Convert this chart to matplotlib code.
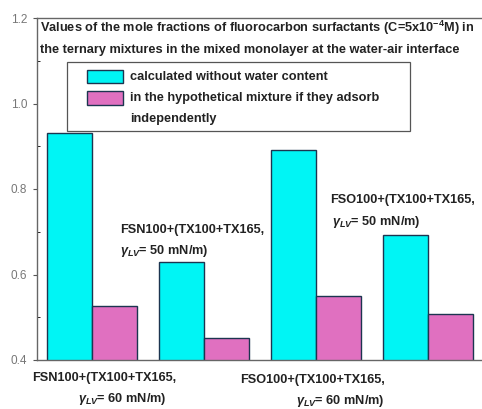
import matplotlib
matplotlib.use("Agg")
import matplotlib.pyplot as plt
from matplotlib.patches import Rectangle

# values
systems = ["FSN100 60", "FSN100 50", "FSO100 60", "FSO100 50"]
calc_no_water = [0.931, 0.629, 0.891, 0.692]
hypothetical = [0.526, 0.451, 0.550, 0.508]
yticks = [0.4, 0.6, 0.8, 1.0, 1.2]
series_labels = ["calculated without water content",
                 "in the hypothetical mixture if they adsorb\nindependently"]

CYAN = "#00f5f5"
PINK = "#e070c0"
EDGE = "#1c3550"
TXT = "#222222"
FS = 9.2

plt.rcParams["font.family"] = ["Liberation Sans", "DejaVu Sans"]
plt.rcParams["mathtext.fontset"] = "custom"
plt.rcParams["mathtext.rm"] = "Liberation Sans:bold"
plt.rcParams["mathtext.it"] = "Liberation Sans:italic:bold"
plt.rcParams["mathtext.bf"] = "Liberation Sans:bold"

W, H = 482, 409
L, R, T, B = 37, 481, 18, 360
fig = plt.figure(figsize=(W / 100, H / 100), dpi=100)
ax = fig.add_axes([L / W, (H - B) / H, (R - L) / W, (B - T) / H])

x = list(range(len(systems)))
bw = 0.40
ax.bar([i - bw / 2 for i in x], calc_no_water, bw, color=CYAN,
       edgecolor=EDGE, linewidth=1.0)
ax.bar([i + bw / 2 for i in x], hypothetical, bw, color=PINK,
       edgecolor=EDGE, linewidth=1.0)

ax.set_xlim(-0.49, 3.47)
ax.set_ylim(0.4, 1.2)
ax.set_yticks(yticks)
ax.set_yticks([0.5, 0.7, 0.9, 1.1], minor=True)
ax.set_yticklabels([f"{v:.1f}" for v in yticks])
ax.set_xticks([])
ax.tick_params(axis="y", labelsize=8.5, labelcolor="#777777", color="#555555",
               length=3, direction="out", pad=4)
ax.tick_params(axis="y", which="minor", length=2, direction="in")
ax.spines["right"].set_visible(False)
for s in ["left", "top", "bottom"]:
    ax.spines[s].set_color("#666666")
    ax.spines[s].set_linewidth(1.0)


def fx(px):
    return (px - L) / (R - L)


def fy(py):
    return (B - py) / (B - T)


tkw = dict(fontsize=FS, fontweight="bold", color=TXT, transform=ax.transAxes,
           va="center", ha="left", clip_on=False)

ax.text(fx(40), fy(28), "Values of the mole fractions of fluorocarbon surfactants (C=5x10$^{-4}$M) in", **tkw)
ax.text(fx(40), fy(50), "the ternary mixtures in the mixed monolayer at the water-air interface", **tkw)

# legend box, drawn by hand so the rows sit like the original
ax.add_patch(Rectangle((fx(67), fy(131)), fx(410) - fx(67), fy(62) - fy(131),
                       transform=ax.transAxes, facecolor="white", edgecolor="#555555",
                       linewidth=0.9, zorder=3))
for (colour, label, top, bot) in [(CYAN, series_labels[0], 70, 83),
                                  (PINK, series_labels[1], 91, 105)]:
    ax.add_patch(Rectangle((fx(87), fy(bot)), fx(123) - fx(87), fy(top) - fy(bot),
                           transform=ax.transAxes, facecolor=colour, edgecolor=EDGE,
                           linewidth=1.0, zorder=4))
ax.text(fx(130), fy(77), series_labels[0], zorder=5, **tkw)
for k, line in enumerate(series_labels[1].split("\n")):
    ax.text(fx(130), fy(98 + 21 * k), line, zorder=5, **tkw)

# in-plot labels
ax.text(fx(120), fy(230), "FSN100+(TX100+TX165,", **tkw)
ax.text(fx(120), fy(251), r"$\gamma_{LV}$= 50 mN/m)", **tkw)
ax.text(fx(330), fy(200), "FSO100+(TX100+TX165,", **tkw)
ax.text(fx(332), fy(222), r"$\gamma_{LV}$= 50 mN/m)", **tkw)

# below-axis labels
ax.text(fx(32), fy(378), "FSN100+(TX100+TX165,", **tkw)
ax.text(fx(78), fy(399), r"$\gamma_{LV}$= 60 mN/m)", **tkw)
ax.text(fx(240), fy(380), "FSO100+(TX100+TX165,", **tkw)
ax.text(fx(296), fy(401), r"$\gamma_{LV}$= 60 mN/m)", **tkw)

fig.savefig("out.png", dpi=100)
